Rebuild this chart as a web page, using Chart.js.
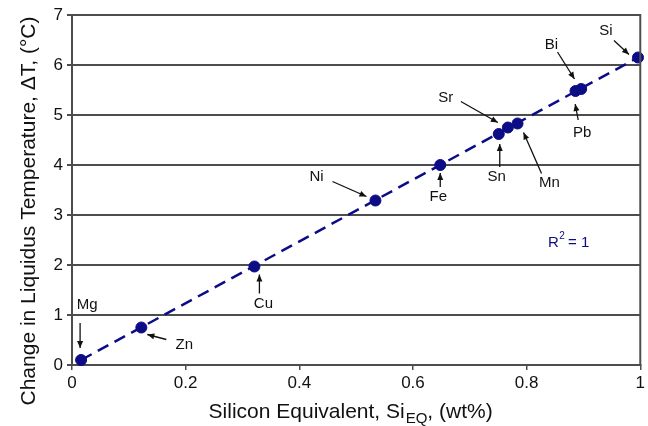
<!DOCTYPE html>
<html>
<head>
<meta charset="utf-8">
<script src="https://cdn.jsdelivr.net/npm/chart.js@4"></script>
<style>
html,body{margin:0;padding:0;background:#fff;}
#wrap{width:648px;height:426px;position:relative;}
</style>
</head>
<body>
<div id="wrap"><canvas id="c" width="648" height="426"></canvas></div>
<script>
// ---- data ----
const elements = ['Mg','Zn','Cu','Ni','Fe','Sn','Sr','Mn','Bi','Pb','Si'];
const siEq     = [0.016,0.122,0.321,0.534,0.648,0.751,0.767,0.784,0.886,0.896,0.996];
const deltaT   = [0.10,0.75,1.97,3.29,4.00,4.62,4.75,4.83,5.48,5.52,6.15];
const trendX   = [0.016,0.996];
const trendY   = [0.10,6.15];
const xTicks   = [0,0.2,0.4,0.6,0.8,1];
const yTicks   = [0,1,2,3,4,5,6,7];
const rSquared = '1';

// label/arrow placement (pixel offsets from each point): [textDx,textDy, fromDx,fromDy, toDx,toDy]
const labelLayout = {
  Mg:[6,-55,-1,-37,-1,-12],
  Zn:[43,17,25,12,6,7],
  Cu:[9,37,5,27,5,8],
  Ni:[-59,-24,-43,-19,-9,-4],
  Fe:[-2,32,0,22,0,8],
  Sn:[-2,43,1,33,1,10],
  Sr:[-62,-30,-47,-26,-10,-5],
  Mn:[32,59,24,50,6,9],
  Bi:[-24,-46,-18,-39,-1,-12],
  Pb:[1,44,-3,31,-6,15],
  Si:[-32,-27,-24,-17,-9,-3]
};

const FONT = '"Liberation Sans", Arial, Helvetica, sans-serif';
const NAVY = '#0c0c86';
const GRID = '#4d4d4d';

function arrow(ctx,x1,y1,x2,y2){
  ctx.beginPath(); ctx.moveTo(x1,y1); ctx.lineTo(x2,y2); ctx.stroke();
  const a=Math.atan2(y2-y1,x2-x1), L=7, W=3;
  ctx.beginPath();
  ctx.moveTo(x2,y2);
  ctx.lineTo(x2-L*Math.cos(a)+W*Math.sin(a), y2-L*Math.sin(a)-W*Math.cos(a));
  ctx.lineTo(x2-L*Math.cos(a)-W*Math.sin(a), y2-L*Math.sin(a)+W*Math.cos(a));
  ctx.closePath(); ctx.fill();
}

const decor = {
  id:'decor',
  afterDraw(chart){
    const ctx=chart.ctx, xs=chart.scales.x, ys=chart.scales.y, ca=chart.chartArea;
    ctx.save();
    // right border
    ctx.strokeStyle=GRID; ctx.lineWidth=2;
    ctx.beginPath(); ctx.moveTo(ca.right,ca.top-1); ctx.lineTo(ca.right,ca.bottom+1); ctx.stroke();
    // annotations
    ctx.fillStyle='#111'; ctx.strokeStyle='#111'; ctx.lineWidth=1.3;
    ctx.font='15px '+FONT; ctx.textAlign='center'; ctx.textBaseline='middle';
    elements.forEach((el,i)=>{
      const px=xs.getPixelForValue(siEq[i]), py=ys.getPixelForValue(deltaT[i]);
      const L=labelLayout[el];
      ctx.fillText(el,px+L[0],py+L[1]);
      arrow(ctx,px+L[2],py+L[3],px+L[4],py+L[5]);
    });
    // R^2
    ctx.fillStyle=NAVY; ctx.textAlign='left';
    const rx=548, ry=ys.getPixelForValue(2.45);
    ctx.font='15px '+FONT; ctx.fillText('R',rx,ry);
    const w=ctx.measureText('R').width;
    ctx.font='10px '+FONT; ctx.fillText('2',rx+w+0.5,ry-6);
    ctx.font='15px '+FONT; ctx.fillText(' = '+rSquared,rx+w+5,ry);
    // axis titles
    ctx.fillStyle='#111'; ctx.font='21px '+FONT; ctx.textBaseline='middle';
    const t1='Silicon Equivalent, Si', sub='EQ', t2=', (wt%)';
    const w1=ctx.measureText(t1).width, w3=ctx.measureText(t2).width;
    ctx.font='15px '+FONT; const w2=ctx.measureText(sub).width;
    let sx=(ca.left+ca.right)/2-(w1+w2+w3)/2 - 6, ty=412;
    ctx.textAlign='left';
    ctx.font='21px '+FONT; ctx.fillText(t1,sx,ty);
    ctx.font='15px '+FONT; ctx.fillText(sub,sx+w1+1,ty+7);
    ctx.font='21px '+FONT; ctx.fillText(t2,sx+w1+w2+1,ty);
    ctx.translate(29,211); ctx.rotate(-Math.PI/2);
    ctx.textAlign='center';
    ctx.fillText('Change in Liquidus Temperature, \u0394T, (\u00B0C)',0,0);
    ctx.restore();
  }
};

new Chart(document.getElementById('c'),{
  type:'scatter',
  data:{datasets:[
    {type:'line',data:trendX.map((x,i)=>({x,y:trendY[i]})),borderColor:NAVY,borderWidth:2.5,borderDash:[12,7],pointRadius:0,fill:false,order:2},
    {data:siEq.map((x,i)=>({x,y:deltaT[i]})),backgroundColor:NAVY,borderColor:NAVY,pointRadius:5.5,pointHoverRadius:5.5,order:1,clip:false}
  ]},
  options:{
    responsive:false,animation:false,
    layout:{padding:{top:15,right:6,left:0,bottom:0}},
    plugins:{legend:{display:false},tooltip:{enabled:false}},
    scales:{
      x:{type:'linear',min:0,max:1,
        afterBuildTicks(s){s.ticks=xTicks.map(v=>({value:v}));},
        afterFit(s){s.height=61;},
        border:{color:GRID,width:2},
        grid:{drawOnChartArea:false,drawTicks:true,tickLength:5,color:GRID,lineWidth:1.5},
        ticks:{color:'#111',font:{family:FONT,size:17},padding:3,maxRotation:0,callback:v=>String(v)}
      },
      y:{type:'linear',min:0,max:7,
        afterBuildTicks(s){s.ticks=yTicks.map(v=>({value:v}));},
        afterFit(s){s.width=72;},
        border:{color:GRID,width:2},
        grid:{color:GRID,lineWidth:2,tickLength:5,drawTicks:true},
        ticks:{color:'#111',font:{family:FONT,size:17},padding:4,callback:v=>String(v)}
      }
    }
  },
  plugins:[decor]
});
</script>
</body>
</html>
